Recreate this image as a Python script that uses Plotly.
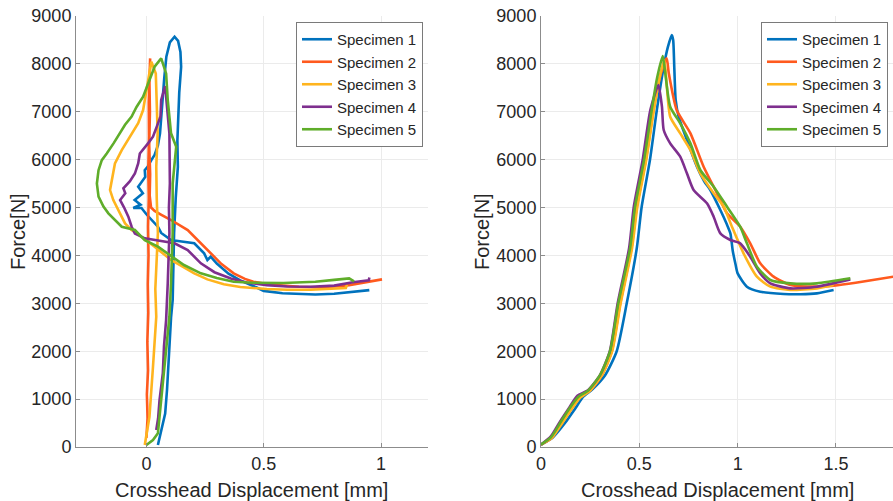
import plotly.graph_objects as go

# ---------------- data: left panel (raw crosshead displacement) ----------------
L1x = [0.049, 0.065, 0.08, 0.088, 0.093, 0.1, 0.105, 0.112, 0.115, 0.118, 0.125, 0.134, 0.132, 0.136, 0.14, 0.148, 0.145, 0.135, 0.12, 0.1, 0.085, 0.076, 0.07, 0.063, 0.058, 0.049, 0.035, 0.021, 0.005, -0.007, -0.005, -0.035, -0.015, -0.05, -0.025, -0.056, -0.021, 0.0, 0.021, 0.049, 0.063, 0.105, 0.15, 0.204, 0.246, 0.26, 0.274, 0.3, 0.35, 0.4, 0.47, 0.5, 0.58, 0.65, 0.72, 0.8, 0.87, 0.95]
L1y = [40, 350, 700, 1200, 1700, 2300, 2700, 3070, 3700, 4470, 5200, 5850, 6400, 6900, 7400, 7940, 8250, 8480, 8567, 8450, 8150, 7700, 7245, 6900, 6550, 6300, 6100, 5990, 5850, 5780, 5640, 5435, 5300, 5157, 5060, 4990, 4990, 4860, 4740, 4600, 4470, 4322, 4290, 4253, 4044, 3905, 3973, 3830, 3620, 3480, 3330, 3260, 3210, 3190, 3185, 3200, 3230, 3275]

L2x = [0.0, 0.005, 0.002, 0.007, 0.004, 0.008, 0.006, 0.009, 0.007, 0.01, 0.008, 0.011, 0.01, 0.014, 0.016, 0.013, 0.015, 0.012, 0.016, 0.014, 0.02, 0.035, 0.06, 0.105, 0.176, 0.232, 0.274, 0.32, 0.372, 0.42, 0.456, 0.52, 0.583, 0.65, 0.72, 0.8, 0.864, 0.93, 1.004]
L2y = [190, 600, 1100, 1600, 2200, 2800, 3400, 4000, 4600, 5200, 5800, 6500, 7200, 7800, 8115, 7600, 7000, 6300, 5700, 5250, 5000, 4930, 4860, 4740, 4530, 4253, 4044, 3820, 3625, 3510, 3450, 3400, 3370, 3345, 3335, 3350, 3380, 3430, 3500]

L3x = [-0.007, 0.013, 0.028, 0.042, 0.038, 0.049, 0.044, 0.042, 0.048, 0.045, 0.04, 0.021, 0.01, -0.014, -0.035, -0.077, -0.105, -0.134, -0.148, -0.155, -0.141, -0.12, -0.091, -0.063, -0.021, 0.035, 0.105, 0.204, 0.26, 0.33, 0.4, 0.513, 0.6, 0.7, 0.8, 0.85, 0.855]
L3y = [40, 630, 1670, 2720, 3300, 4470, 5200, 5850, 6550, 7300, 7800, 8045, 7720, 7036, 6760, 6410, 6200, 5920, 5575, 5366, 5157, 4948, 4670, 4530, 4390, 4183, 3905, 3627, 3500, 3400, 3340, 3300, 3285, 3285, 3300, 3320, 3390]

L4x = [0.042, 0.05, 0.056, 0.07, 0.075, 0.084, 0.091, 0.098, 0.096, 0.1, 0.098, 0.084, 0.08, 0.063, 0.06, 0.045, 0.028, 0.007, -0.01, -0.028, -0.035, -0.049, -0.07, -0.098, -0.09, -0.112, -0.095, -0.077, -0.063, -0.049, -0.007, 0.063, 0.12, 0.176, 0.232, 0.29, 0.36, 0.43, 0.513, 0.6, 0.7, 0.8, 0.88, 0.948, 0.95]
L4y = [355, 600, 981, 1540, 2100, 2650, 3420, 4470, 5000, 5500, 6550, 7315, 7538, 7245, 6900, 6700, 6480, 6340, 6240, 6130, 5920, 5710, 5550, 5400, 5300, 5157, 5000, 4810, 4600, 4460, 4357, 4300, 4253, 4113, 3835, 3650, 3520, 3430, 3380, 3350, 3345, 3370, 3440, 3480, 3540]

L5x = [0.0, 0.028, 0.049, 0.056, 0.07, 0.075, 0.084, 0.09, 0.098, 0.105, 0.112, 0.112, 0.127, 0.105, 0.091, 0.084, 0.063, 0.035, 0.014, -0.014, -0.042, -0.063, -0.091, -0.112, -0.14, -0.169, -0.19, -0.204, -0.211, -0.204, -0.183, -0.162, -0.134, -0.105, -0.049, -0.007, 0.049, 0.091, 0.16, 0.232, 0.3, 0.372, 0.45, 0.583, 0.72, 0.8, 0.864, 0.885]
L5y = [40, 146, 285, 630, 1320, 1700, 2020, 2400, 2720, 3420, 4470, 5500, 6270, 6550, 7245, 7800, 8115, 7940, 7660, 7315, 7100, 6900, 6730, 6550, 6340, 6130, 5990, 5780, 5500, 5230, 5020, 4880, 4750, 4600, 4531, 4320, 4183, 4044, 3800, 3627, 3530, 3452, 3430, 3424, 3450, 3490, 3522, 3460]

# ---------------- data: right panel (corrected displacement) ----------------
R1x = [0, 0.06, 0.122, 0.17, 0.215, 0.26, 0.326, 0.385, 0.436, 0.487, 0.512, 0.554, 0.589, 0.624, 0.645, 0.665, 0.672, 0.678, 0.685, 0.7, 0.742, 0.793, 0.83, 0.861, 0.912, 0.945, 0.963, 0.975, 0.99, 1.0, 1.047, 1.115, 1.234, 1.32, 1.403, 1.488]
R1y = [50, 200, 500, 780, 1050, 1200, 1500, 2000, 3000, 4150, 5017, 5993, 7036, 7941, 8350, 8603, 8500, 7900, 7245, 6900, 6410, 5853, 5550, 5366, 4948, 4650, 4461, 4100, 3800, 3626, 3348, 3243, 3195, 3190, 3208, 3278]

R2x = [0, 0.055, 0.1, 0.15, 0.195, 0.25, 0.31, 0.36, 0.403, 0.46, 0.487, 0.533, 0.572, 0.61, 0.639, 0.65, 0.69, 0.76, 0.827, 0.895, 0.946, 1.013, 1.064, 1.115, 1.183, 1.268, 1.403, 1.488, 1.6, 1.793, 1.85]
R2y = [50, 190, 490, 770, 1040, 1180, 1500, 2000, 3000, 4150, 5017, 5993, 7036, 7800, 8115, 7800, 7036, 6549, 5853, 5297, 4879, 4600, 4253, 3835, 3557, 3383, 3348, 3370, 3430, 3557, 3600]

R3x = [0, 0.055, 0.105, 0.15, 0.2, 0.25, 0.31, 0.362, 0.405, 0.463, 0.49, 0.535, 0.574, 0.605, 0.627, 0.64, 0.657, 0.708, 0.76, 0.81, 0.878, 0.929, 0.971, 1.03, 1.098, 1.166, 1.268, 1.403, 1.488]
R3y = [50, 190, 480, 760, 1030, 1180, 1500, 2000, 3000, 4150, 5017, 5993, 7036, 7750, 8080, 7524, 6897, 6550, 6200, 5714, 5297, 5018, 4600, 4044, 3557, 3348, 3278, 3313, 3383]

R4x = [0, 0.05, 0.095, 0.14, 0.185, 0.24, 0.3, 0.35, 0.39, 0.448, 0.472, 0.517, 0.556, 0.597, 0.615, 0.624, 0.657, 0.708, 0.742, 0.776, 0.844, 0.878, 0.912, 0.963, 1.013, 1.064, 1.115, 1.166, 1.268, 1.403, 1.573]
R4y = [50, 220, 520, 800, 1070, 1190, 1500, 2000, 3000, 4150, 5017, 5993, 7036, 7559, 7106, 6619, 6340, 6062, 5714, 5366, 5088, 4809, 4461, 4322, 4253, 3974, 3626, 3417, 3313, 3348, 3500]

R5x = [0, 0.05, 0.097, 0.14, 0.19, 0.24, 0.3, 0.351, 0.393, 0.453, 0.478, 0.524, 0.563, 0.59, 0.619, 0.632, 0.657, 0.708, 0.76, 0.81, 0.878, 0.946, 1.013, 1.047, 1.098, 1.166, 1.268, 1.403, 1.573]
R5y = [50, 200, 500, 780, 1050, 1180, 1500, 2000, 3000, 4150, 5017, 5993, 7036, 7700, 8164, 7802, 7106, 6758, 6340, 5784, 5436, 5018, 4600, 4253, 3765, 3487, 3417, 3417, 3522]

names = ["Specimen 1", "Specimen 2", "Specimen 3", "Specimen 4", "Specimen 5"]
colors = ["#0072BD", "#FF5A1E", "#FFB41E", "#7E2F8E", "#5FAD2A"]
left = [(L1x, L1y), (L2x, L2y), (L3x, L3y), (L4x, L4y), (L5x, L5y)]
right = [(R1x, R1y), (R2x, R2y), (R3x, R3y), (R4x, R4y), (R5x, R5y)]

yticks = [0, 1000, 2000, 3000, 4000, 5000, 6000, 7000, 8000, 9000]
xticks_left = [0, 0.5, 1]
xticks_right = [0, 0.5, 1, 1.5]
xtitle = "Crosshead Displacement [mm]"
ytitle = "Force[N]"

FONT = "Liberation Sans, Arial, Helvetica, sans-serif"
TXT = "#262626"

fig = go.Figure()
for (x, y), n, c in zip(left, names, colors):
    fig.add_trace(go.Scatter(x=x, y=y, name=n, mode="lines", line=dict(color=c, width=2.6),
                             xaxis="x", yaxis="y", legend="legend"))
for (x, y), n, c in zip(right, names, colors):
    fig.add_trace(go.Scatter(x=x, y=y, name=n, mode="lines",
                             line=dict(color=c, width=2.6, shape="spline", smoothing=0.6),
                             xaxis="x2", yaxis="y2", legend="legend2"))

W, H = 893, 501
T, B = 16, 54
PH = H - T - B  # plot-area height


def px_x(px):  # window x pixel -> paper x
    return px / W


def px_y(py):  # window y pixel -> paper y (relative to plot area)
    return (H - B - py) / PH


axcommon = dict(showline=True, linecolor="#8c8c8c", linewidth=1, showgrid=True,
                gridcolor="#ebebeb", gridwidth=1, zeroline=False, ticks="inside",
                ticklen=4, tickcolor="#8c8c8c", automargin=False,
                tickfont=dict(family=FONT, size=18, color=TXT))

legcommon = dict(xanchor="right", yanchor="top", bgcolor="white", bordercolor="#7a7a7a",
                 borderwidth=1, font=dict(family=FONT, size=15, color=TXT),
                 tracegroupgap=0, itemwidth=30)

fig.update_layout(
    width=W, height=H,
    margin=dict(l=0, r=0, t=T, b=B),
    paper_bgcolor="white", plot_bgcolor="white",
    font=dict(family=FONT, color=TXT),
    xaxis=dict(domain=[px_x(76), px_x(428)], range=[-0.3, 1.2], tickvals=xticks_left,
               ticktext=["0", "0.5", "1"], anchor="y", **axcommon),
    yaxis=dict(domain=[0, 1], range=[0, 9000], tickvals=yticks, anchor="x", **axcommon),
    xaxis2=dict(domain=[px_x(541), 1.0], range=[0, 1.79], tickvals=xticks_right,
                ticktext=["0", "0.5", "1", "1.5"], anchor="y2", **axcommon),
    yaxis2=dict(domain=[0, 1], range=[0, 9000], tickvals=yticks, anchor="x2", **axcommon),
    legend=dict(x=px_x(423), y=px_y(22), **legcommon),
    legend2=dict(x=px_x(888), y=px_y(22), **legcommon),
    showlegend=True,
)

ann = dict(xref="paper", yref="paper", showarrow=False,
           font=dict(family=FONT, size=20, color=TXT), xanchor="center", yanchor="middle")
fig.add_annotation(text=xtitle, x=px_x(252), y=px_y(490), **ann)
fig.add_annotation(text=xtitle, x=px_x(717), y=px_y(490), **ann)
fig.add_annotation(text=ytitle, x=px_x(18), y=px_y(232), textangle=-90, **ann)
fig.add_annotation(text=ytitle, x=px_x(482), y=px_y(232), textangle=-90, **ann)

# remove the default 8px page margin so the figure fills the window exactly
fig.write_html("out.html",
               config={"displayModeBar": False},
               post_script="document.body.style.margin='0';document.body.style.overflow='hidden';")
